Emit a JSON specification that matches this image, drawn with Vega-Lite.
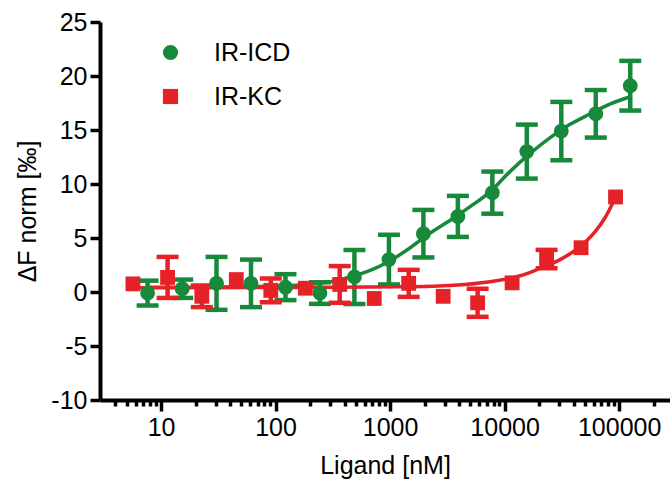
{
  "$schema": "https://vega.github.io/schema/vega-lite/v6.json",
  "autosize": "none",
  "width": 570,
  "height": 378,
  "padding": {"left": 100, "top": 22, "right": 0, "bottom": 79},
  "background": "white",
  "config": {
    "view": {"stroke": null},
    "font": "Liberation Sans",
    "axis": {
      "grid": false,
      "domainColor": "black",
      "domainWidth": 4,
      "tickColor": "black",
      "tickWidth": 3.5,
      "labelColor": "black",
      "labelFont": "Liberation Sans",
      "labelFontSize": 25,
      "titleFont": "Liberation Sans",
      "titleFontSize": 25,
      "titleFontWeight": "normal",
      "titleColor": "black"
    }
  },
  "datasets": {
    "pts": [
      {"series": "IR-ICD", "conc": 7.63, "mean": -0.1, "err": 1.15},
      {"series": "IR-ICD", "conc": 15.3, "mean": 0.3, "err": 0.85},
      {"series": "IR-ICD", "conc": 30.5, "mean": 0.8, "err": 2.45},
      {"series": "IR-ICD", "conc": 61, "mean": 0.8, "err": 2.2},
      {"series": "IR-ICD", "conc": 122, "mean": 0.45, "err": 1.2},
      {"series": "IR-ICD", "conc": 244, "mean": -0.1, "err": 1.0},
      {"series": "IR-ICD", "conc": 488, "mean": 1.4, "err": 2.5},
      {"series": "IR-ICD", "conc": 977, "mean": 3.0, "err": 2.3},
      {"series": "IR-ICD", "conc": 1953, "mean": 5.4, "err": 2.2},
      {"series": "IR-ICD", "conc": 3906, "mean": 7.0, "err": 1.9},
      {"series": "IR-ICD", "conc": 7812, "mean": 9.2, "err": 1.95},
      {"series": "IR-ICD", "conc": 15625, "mean": 13.0, "err": 2.5},
      {"series": "IR-ICD", "conc": 31250, "mean": 14.9, "err": 2.7},
      {"series": "IR-ICD", "conc": 62500, "mean": 16.5, "err": 2.2},
      {"series": "IR-ICD", "conc": 125000, "mean": 19.1, "err": 2.3},
      {"series": "IR-KC", "conc": 5.68, "mean": 0.75, "err": 0},
      {"series": "IR-KC", "conc": 11.4, "mean": 1.35, "err": 1.9},
      {"series": "IR-KC", "conc": 22.7, "mean": -0.4, "err": 1.0},
      {"series": "IR-KC", "conc": 45.4, "mean": 1.15, "err": 0},
      {"series": "IR-KC", "conc": 90.8, "mean": 0.15, "err": 1.1},
      {"series": "IR-KC", "conc": 182, "mean": 0.35, "err": 0},
      {"series": "IR-KC", "conc": 363, "mean": 0.7, "err": 1.7},
      {"series": "IR-KC", "conc": 727, "mean": -0.6, "err": 0},
      {"series": "IR-KC", "conc": 1453, "mean": 0.8, "err": 1.25},
      {"series": "IR-KC", "conc": 2906, "mean": -0.4, "err": 0},
      {"series": "IR-KC", "conc": 5812, "mean": -1.0, "err": 1.3},
      {"series": "IR-KC", "conc": 11625, "mean": 0.85, "err": 0},
      {"series": "IR-KC", "conc": 23250, "mean": 3.05, "err": 0.85},
      {"series": "IR-KC", "conc": 46500, "mean": 4.1, "err": 0},
      {"series": "IR-KC", "conc": 93000, "mean": 8.8, "err": 0}
    ],
    "fit": [
      {"series": "IR-ICD", "conc": 7.3, "value": 0.45},
      {"series": "IR-ICD", "conc": 22, "value": 0.45},
      {"series": "IR-ICD", "conc": 60, "value": 0.5},
      {"series": "IR-ICD", "conc": 160, "value": 0.65},
      {"series": "IR-ICD", "conc": 300, "value": 0.95},
      {"series": "IR-ICD", "conc": 450, "value": 1.4},
      {"series": "IR-ICD", "conc": 670, "value": 2.0},
      {"series": "IR-ICD", "conc": 1000, "value": 2.9},
      {"series": "IR-ICD", "conc": 1500, "value": 4.1},
      {"series": "IR-ICD", "conc": 2200, "value": 5.4},
      {"series": "IR-ICD", "conc": 3300, "value": 6.6},
      {"series": "IR-ICD", "conc": 5000, "value": 7.9},
      {"series": "IR-ICD", "conc": 7500, "value": 9.3},
      {"series": "IR-ICD", "conc": 11000, "value": 11.1},
      {"series": "IR-ICD", "conc": 17000, "value": 12.9},
      {"series": "IR-ICD", "conc": 25000, "value": 14.3},
      {"series": "IR-ICD", "conc": 37000, "value": 15.5},
      {"series": "IR-ICD", "conc": 56000, "value": 16.5},
      {"series": "IR-ICD", "conc": 83000, "value": 17.4},
      {"series": "IR-ICD", "conc": 127000, "value": 18.1},
      {"series": "IR-KC", "conc": 5.7, "value": 0.4},
      {"series": "IR-KC", "conc": 22, "value": 0.4},
      {"series": "IR-KC", "conc": 164, "value": 0.42},
      {"series": "IR-KC", "conc": 1220, "value": 0.48},
      {"series": "IR-KC", "conc": 3340, "value": 0.6},
      {"series": "IR-KC", "conc": 7470, "value": 0.95},
      {"series": "IR-KC", "conc": 13650, "value": 1.5},
      {"series": "IR-KC", "conc": 20400, "value": 2.2},
      {"series": "IR-KC", "conc": 30500, "value": 3.0},
      {"series": "IR-KC", "conc": 45600, "value": 4.2},
      {"series": "IR-KC", "conc": 61700, "value": 5.6},
      {"series": "IR-KC", "conc": 75500, "value": 6.9},
      {"series": "IR-KC", "conc": 93000, "value": 8.8}
    ]
  },
  "encoding": {
    "x": {
      "field": "conc",
      "type": "quantitative",
      "scale": {"type": "log", "domain": [2.93, 278000], "nice": false, "zero": false},
      "axis": {
        "title": "Ligand [nM]",
        "values": [4,5,6,7,8,9,10,20,30,40,50,60,70,80,90,100,200,300,400,500,600,700,800,900,1000,2000,3000,4000,5000,6000,7000,8000,9000,10000,20000,30000,40000,50000,60000,70000,80000,90000,100000,200000],
        "labelExpr": "abs(log(datum.value)/LN10 - round(log(datum.value)/LN10)) < 0.001 ? format(datum.value, 'd') : ''",
        "tickSize": {"condition": {"test": "abs(log(datum.value)/LN10 - round(log(datum.value)/LN10)) < 0.001", "value": 11}, "value": 6},
        "labelOverlap": false,
        "labelFlush": false,
        "labelPadding": 4,
        "titlePadding": 13
      }
    },
    "y": {
      "type": "quantitative",
      "scale": {"domain": [-10, 25], "nice": false, "zero": false},
      "axis": {
        "title": "ΔF norm [‰]",
        "values": [-10, -5, 0, 5, 10, 15, 20, 25],
        "labelExpr": "'' + datum.value",
        "tickSize": 10,
        "labelPadding": 3,
        "titlePadding": 10
      }
    }
  },
  "layer": [
    {
      "data": {"name": "pts"},
      "transform": [{"filter": "datum.err > 0"}],
      "mark": {"type": "errorbar", "ticks": {"opacity": 1}, "rule": {"opacity": 1}, "opacity": 1, "size": 22, "thickness": 4.5},
      "encoding": {
        "y": {"field": "mean", "type": "quantitative"},
        "yError": {"field": "err"},
        "color": {"condition": {"test": "datum.series === 'IR-ICD'", "value": "#168a3a"}, "value": "#e52228"}
      }
    },
    {
      "data": {"name": "fit"},
      "mark": {"type": "line", "strokeWidth": 3.5, "interpolate": "catmull-rom"},
      "encoding": {
        "y": {"field": "value", "type": "quantitative"},
        "detail": {"field": "series"},
        "color": {"condition": {"test": "datum.series === 'IR-ICD'", "value": "#168a3a"}, "value": "#e52228"}
      }
    },
    {
      "data": {"name": "pts"},
      "mark": {"type": "point", "filled": true, "opacity": 1, "size": 220},
      "encoding": {
        "y": {"field": "mean", "type": "quantitative"},
        "color": {
          "field": "series",
          "type": "nominal",
          "scale": {"domain": ["IR-ICD", "IR-KC"], "range": ["#168a3a", "#e52228"]},
          "legend": {
            "orient": "none",
            "legendX": 58,
            "legendY": 18,
            "title": null,
            "padding": 0,
            "labelFont": "Liberation Sans",
            "labelFontSize": 25,
            "labelColor": "black",
            "labelOffset": 31,
            "rowPadding": 18,
            "symbolSize": 230,
            "symbolStrokeWidth": 0,
            "symbolOpacity": 1
          }
        },
        "shape": {
          "field": "series",
          "type": "nominal",
          "scale": {"domain": ["IR-ICD", "IR-KC"], "range": ["circle", "square"]}
        }
      }
    }
  ]
}
